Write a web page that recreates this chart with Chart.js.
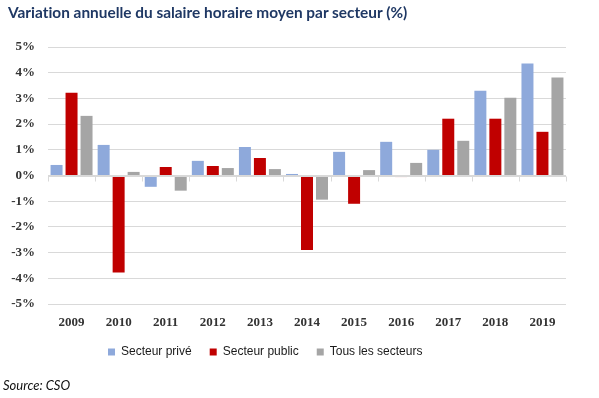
<!DOCTYPE html>
<html>
<head>
<meta charset="utf-8">
<script src="https://cdn.jsdelivr.net/npm/chart.js@4/dist/chart.umd.min.js"></script>
<style>
  body { margin: 0; background: #fff; }
  #wrap { position: relative; width: 599px; height: 398px; overflow: hidden; }
  #chart { position: absolute; left: 0; top: 0; }
  #title { position: absolute; left: 8px; top: 3px; font: bold 15.4px Lato, sans-serif; color: #1F3864; white-space: nowrap; font-variant-ligatures: none; }
  #source { position: absolute; left: 3px; top: 377px; font: italic 13px Lato, sans-serif; color: #111; }
</style>
</head>
<body>
<div id="wrap">
  <canvas id="chart" width="599" height="398"></canvas>
  <div id="title">Variation annuelle du salaire horaire moyen par secteur (%)</div>
  <div id="source">Source: CSO</div>
</div>
<script>
const years = ['2009', '2010', '2011', '2012', '2013', '2014', '2015', '2016', '2017', '2018', '2019'];
const secteurPrive = [0.41, 1.19, -0.44, 0.57, 1.11, 0.06, 0.92, 1.31, 1.00, 3.30, 4.36];
const secteurPublic = [3.22, -3.77, 0.33, 0.37, 0.68, -2.90, -1.10, -0.06, 2.21, 2.21, 1.70];
const tousSecteurs = [2.32, 0.14, -0.59, 0.29, 0.25, -0.94, 0.21, 0.49, 1.35, 3.03, 3.81];
const seriesNames = ['Secteur privé', 'Secteur public', 'Tous les secteurs'];
const seriesColors = ['#8EA9DB', '#C00000', '#A5A5A5'];

// little tick marks under the zero line, between the years
const zeroTicks = {
    id: 'zeroTicks',
    afterDraw(chart) {
        const ctx = chart.ctx;
        const area = chart.chartArea;
        const y0 = Math.round(chart.scales.y.getPixelForValue(0)) + 0.5;
        const step = (area.right - area.left) / years.length;
        ctx.save();
        ctx.strokeStyle = '#D9D9D9';
        ctx.lineWidth = 1;
        ctx.beginPath();
        for (let i = 0; i <= years.length; i++) {
            const x = Math.round(area.left + i * step) + 0.5;
            ctx.moveTo(x, y0);
            ctx.lineTo(x, y0 + 5);
        }
        ctx.moveTo(area.left, y0);
        ctx.lineTo(area.right, y0);
        ctx.stroke();
        ctx.restore();
    }
};

// move the legend a bit left, like in the original
const legendShift = {
    id: 'legendShift',
    afterLayout(chart) {
        const lg = chart.legend;
        const w = lg.right - lg.left;
        lg.left = 90;
        lg.right = 90 + w;
    }
};

new Chart(document.getElementById('chart'), {
    type: 'bar',
    data: {
        labels: years,
        datasets: [
            { label: seriesNames[0], data: secteurPrive, backgroundColor: seriesColors[0] },
            { label: seriesNames[1], data: secteurPublic, backgroundColor: seriesColors[1] },
            { label: seriesNames[2], data: tousSecteurs, backgroundColor: seriesColors[2] }
        ]
    },
    options: {
        responsive: false,
        animation: false,
        devicePixelRatio: 1,
        layout: { padding: { top: 47, left: 0, right: 33, bottom: 30 } },
        datasets: {
            bar: { barPercentage: 0.8, categoryPercentage: 0.955, borderWidth: 0, minBarLength: 1 }
        },
        scales: {
            x: {
                grid: { display: false, drawTicks: false },
                border: { display: false },
                ticks: {
                    padding: 11,
                    color: '#333',
                    font: { family: 'Liberation Serif', weight: 'bold', size: 13 }
                },
                afterFit(scale) { scale.height = 24; }
            },
            y: {
                min: -5,
                max: 5,
                grid: { color: '#D9D9D9', drawTicks: false },
                border: { display: false },
                ticks: {
                    stepSize: 1,
                    padding: 13,
                    color: '#333',
                    font: { family: 'Liberation Serif', weight: 'bold', size: 13 },
                    callback: v => v + '%'
                },
                afterFit(scale) { scale.width = 48; }
            }
        },
        plugins: {
            legend: {
                position: 'bottom',
                align: 'start',
                labels: {
                    boxWidth: 7,
                    boxHeight: 7,
                    padding: 18,
                    color: '#1a1a1a',
                    font: { family: 'Liberation Sans', size: 12 }
                }
            },
            tooltip: { enabled: false }
        }
    },
    plugins: [zeroTicks, legendShift]
});
</script>
</body>
</html>
